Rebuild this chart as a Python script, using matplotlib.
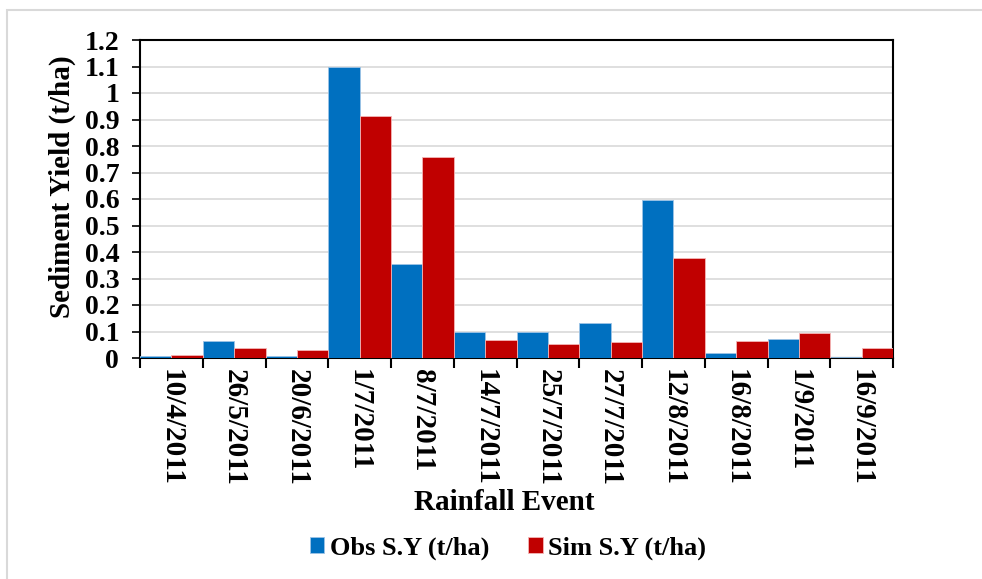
import matplotlib
matplotlib.use("Agg")
import matplotlib.pyplot as plt
import numpy as np
from matplotlib.patches import Rectangle

events = ["10/4/2011", "26/5/2011", "20/6/2011", "1/7/2011", "8/7/2011", "14/7/2011",
          "25/7/2011", "27/7/2011", "12/8/2011", "16/8/2011", "1/9/2011", "16/9/2011"]
obs_sy = [0.007, 0.064, 0.008, 1.10, 0.355, 0.100, 0.099, 0.131, 0.596, 0.020, 0.072, 0.004]
sim_sy = [0.010, 0.038, 0.030, 0.913, 0.758, 0.067, 0.053, 0.062, 0.377, 0.064, 0.094, 0.039]
y_ticks = [0, 0.1, 0.2, 0.3, 0.4, 0.5, 0.6, 0.7, 0.8, 0.9, 1, 1.1, 1.2]
y_tick_labels = ["0", "0.1", "0.2", "0.3", "0.4", "0.5", "0.6", "0.7", "0.8", "0.9", "1", "1.1", "1.2"]

plt.rcParams['font.family'] = ['Liberation Serif', 'DejaVu Serif']
plt.rcParams['font.weight'] = 'bold'

W, H = 982, 579
fig = plt.figure(figsize=(W / 100, H / 100), dpi=100)
fig.patches.append(Rectangle((7 / W, -0.1), 1.2, 1 - 10 / H + 0.1, transform=fig.transFigure,
                             fill=False, edgecolor='#d9d9d9', linewidth=1.5))

ax = fig.add_axes([140 / W, 1 - 358 / H, (893 - 140) / W, (358 - 40) / H])
x = np.arange(len(events))
bw = 0.5
ax.bar(x - bw / 2, obs_sy, width=bw, color='#0070c0', edgecolor='#9dc3e6', linewidth=0.6,
       label='Obs S.Y (t/ha)', zorder=3)
ax.bar(x + bw / 2, sim_sy, width=bw, color='#c00000', edgecolor='#f4b6b6', linewidth=0.6,
       label='Sim S.Y (t/ha)', zorder=3)

ax.set_xlim(-0.5, len(events) - 0.5)
ax.set_ylim(0, 1.2)
ax.set_yticks(y_ticks)
ax.set_yticklabels(y_tick_labels, fontsize=20, fontweight='bold')
ax.yaxis.grid(True, color='#d9d9d9', linewidth=1.2, zorder=0)
ax.set_axisbelow(True)

ax.set_xticks(np.arange(len(events) + 1) - 0.5)
ax.set_xticklabels([])
ax.set_xticks(x, minor=True)
ax.set_xticklabels(events, minor=True, rotation=270, fontsize=21, fontweight='bold', va='top', ha='center')
ax.tick_params(axis='x', which='minor', length=0, pad=8)
ax.tick_params(axis='x', which='major', length=7, width=1.5, direction='out')
ax.tick_params(axis='y', which='major', length=6, width=1.2, direction='out', pad=9)

for s in ax.spines.values():
    s.set_linewidth(1.5)
    s.set_color('black')

ax.set_ylabel('Sediment Yield (t/ha)', fontsize=21, fontweight='bold')
ax.yaxis.set_label_coords((76 - 140) / (893 - 140), (358 - 187) / (358 - 40))
fig.text(504 / W, 1 - 503 / H, 'Rainfall Event', fontsize=21, fontweight='bold', ha='center', va='center')

leg = fig.legend(loc='center', bbox_to_anchor=(508 / W, 1 - 548 / H), ncol=2, frameon=False,
                 prop={'size': 19, 'weight': 'bold'}, handlelength=0.55, handleheight=0.55,
                 handletextpad=0.2, columnspacing=1.5)

fig.savefig('out.png', dpi=100)
